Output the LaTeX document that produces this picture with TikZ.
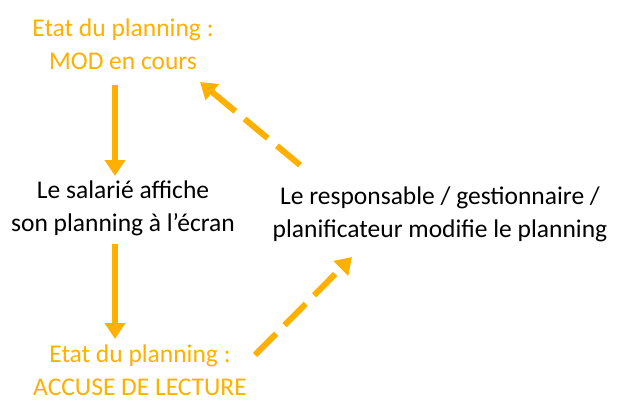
\documentclass[tikz,border=0pt]{standalone}
\usepackage{fontspec}
\setmainfont{Carlito}
\usetikzlibrary{arrows.meta}
\definecolor{org}{HTML}{FFB000}
\begin{document}
\begin{tikzpicture}[x=1pt,y=-1pt,
  lbl/.style={align=center,font=\fontsize{25.5}{33}\selectfont,inner sep=0pt},
  olbl/.style={lbl,text=org},
  arr/.style={draw=org,line width=6pt,-{Triangle[length=16pt,width=20pt]}},
  darr/.style={arr,dash pattern=on 30pt off 12pt}]
\useasboundingbox (0,0) rectangle (627,413);
\node[olbl] (top) at (123,44) {Etat du planning :\\MOD en cours};
\node[lbl] (mid) at (123,208) {Le salarié affiche\\son planning à l’écran};
\node[olbl] (bot) at (140,370) {Etat du planning :\\ACCUSE DE LECTURE};
\node[lbl] (right) at (440,214) {Le responsable / gestionnaire /\\planificateur modifie le planning};
\coordinate (a1) at (300,165);
\coordinate (a2) at (200,82);
\coordinate (b1) at (255,355);
\coordinate (b2) at (352,257);
\draw[arr] (115,85) -- (115,176);
\draw[arr] (115,244) -- (115,339);
\draw[darr] (a1) -- (a2);
\draw[darr] (b1) -- (b2);
\end{tikzpicture}
\end{document}
